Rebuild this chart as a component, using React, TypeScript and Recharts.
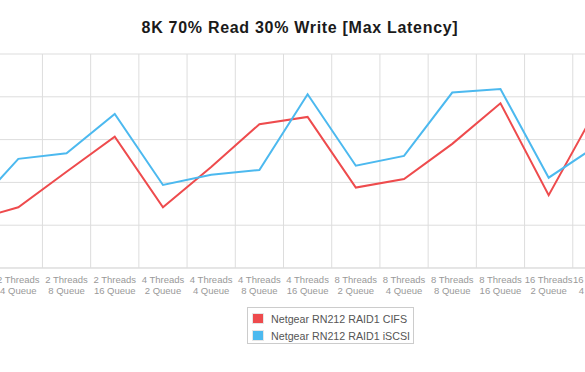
import React from "react"
import { CartesianGrid, Line, LineChart, XAxis, YAxis } from "recharts"

// the picture is a crop of a wider chart: first and last category sit half outside the frame
const categories = [
  "2 Threads 2 Queue",
  "2 Threads 4 Queue",
  "2 Threads 8 Queue",
  "2 Threads 16 Queue",
  "4 Threads 2 Queue",
  "4 Threads 4 Queue",
  "4 Threads 8 Queue",
  "4 Threads 16 Queue",
  "8 Threads 2 Queue",
  "8 Threads 4 Queue",
  "8 Threads 8 Queue",
  "8 Threads 16 Queue",
  "16 Threads 2 Queue",
  "16 Threads 4 Queue",
]

const cifs = [110, 142, 225, 307, 142, 236, 336, 353, 188, 208, 290, 385, 170, 374]
const iscsi = [131, 255, 268, 360, 194, 218, 229, 406, 239, 262, 410, 418, 211, 286]

const yTicks = [0, 100, 200, 300, 400, 500]

const series = [
  { key: "cifs", name: "Netgear RN212 RAID1 CIFS", color: "#ee4b4d" },
  { key: "iscsi", name: "Netgear RN212 RAID1 iSCSI", color: "#4cb9ef" },
]

const data = categories.map((name, i) => ({ name, cifs: cifs[i], iscsi: iscsi[i] }))

const font = "'Liberation Sans', Arial, Helvetica, sans-serif"

function CategoryTick({ x, y, payload }: any) {
  const m = String(payload.value).match(/^(\d+ Threads?) (.*)$/)
  const top = m ? m[1] : payload.value
  const bottom = m ? m[2] : ""
  return (
    <text x={x} y={y} textAnchor="middle" fill="#999999" fontSize={9.5} fontFamily={font}>
      <tspan x={x} dy={7}>{top}</tspan>
      <tspan x={x} dy={11}>{bottom}</tspan>
    </text>
  )
}

export default function App() {
  return (
    <div style={{ position: "relative", width: 585, height: 372, overflow: "hidden", background: "#fff", fontFamily: font }}>
      <style>{"body{margin:0}"}</style>
      <div
        style={{
          position: "absolute",
          left: 0,
          width: 600,
          top: 19,
          textAlign: "center",
          fontWeight: "bold",
          fontSize: 16,
          letterSpacing: 0.7,
          color: "#1a1a1a",
        }}
      >
        8K 70% Read 30% Write [Max Latency]
      </div>
      <div style={{ position: "absolute", left: -54, top: 0 }}>
        <LineChart
          width={675}
          height={372}
          data={data}
          margin={{ top: 54, right: 0, bottom: 74, left: 0 }}
        >
          <CartesianGrid
            stroke="#dddddd"
            verticalCoordinatesGenerator={({ offset }: any) =>
              categories.map((_, i) => offset.left + (i * offset.width) / categories.length).slice(1)
            }
          />
          <XAxis
            dataKey="name"
            scale="band"
            interval={0}
            height={30}
            tickLine={false}
            axisLine={{ stroke: "#dddddd" }}
            tick={<CategoryTick />}
          />
          <YAxis hide domain={[0, 500]} ticks={yTicks} />
          {series.map((s) => (
            <Line
              key={s.key}
              dataKey={s.key}
              name={s.name}
              stroke={s.color}
              strokeWidth={2}
              dot={false}
              activeDot={false}
              type="linear"
              isAnimationActive={false}
            />
          ))}
        </LineChart>
      </div>
      <div
        style={{
          position: "absolute",
          left: 247,
          top: 307,
          width: 165,
          height: 35,
          border: "1px solid #cccccc",
          fontSize: 10.7,
          color: "#555",
        }}
      >
        {series.map((s, i) => (
          <div key={s.key} style={{ position: "absolute", left: 4, top: 4 + i * 17, height: 13, display: "flex", alignItems: "center" }}>
            <span
              style={{
                display: "inline-block",
                width: 10,
                height: 9,
                background: s.color,
                border: "1px solid #e6e6e6",
                marginRight: 7,
              }}
            />
            <span style={{ whiteSpace: "nowrap" }}>{s.name}</span>
          </div>
        ))}
      </div>
    </div>
  )
}
